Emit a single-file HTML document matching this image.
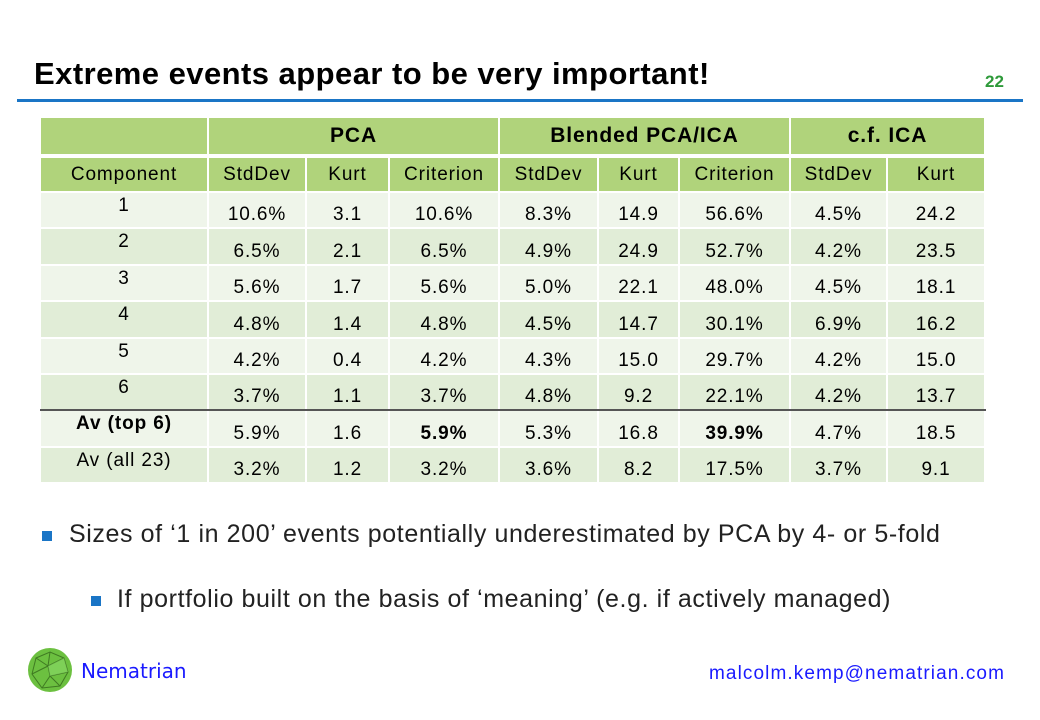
<!DOCTYPE html>
<html><head><style>
body{margin:0;width:1040px;height:720px;background:#fff;position:relative;overflow:hidden;font-family:"Liberation Sans",Arial,sans-serif;}
.t{position:absolute;left:34px;top:56px;font-size:31px;font-weight:bold;color:#000;letter-spacing:0.45px}
.n{position:absolute;left:985px;top:72px;font-size:17px;font-weight:bold;color:#2e9a3a}
.hl{position:absolute;left:17px;top:99px;width:1006px;height:3px;background:#1a75c6}
table{position:absolute;left:39px;top:116px;border-collapse:collapse;table-layout:fixed;font-size:19px;letter-spacing:0.9px;color:#000}
td{border:2px solid #fff;text-align:center;padding:0;white-space:nowrap}
.h1 td{background:#b0d37b;height:36px;font-weight:bold;font-size:21px;border-bottom-width:4px}
.h2 td{background:#b0d37b;height:33px}
.a td{background:#eff5ea}
.b td{background:#e1edd7}
tr.d td{height:31.4px;vertical-align:bottom;padding-bottom:2px;line-height:20px}
tr.d td:first-child{vertical-align:top;padding-top:3px;padding-bottom:0}
.line{position:absolute;left:40px;top:409px;width:946px;height:2px;background:#555}
.bull{position:absolute;width:10px;height:10px;background:#1a75c6}
.tx{position:absolute;font-size:25px;letter-spacing:0.6px;color:#222}
</style></head><body>
<div class="t">Extreme events appear to be very important!</div>
<div class="n">22</div>
<div class="hl"></div>
<table>
<colgroup><col style="width:168px"><col style="width:98px"><col style="width:83px"><col style="width:110px"><col style="width:99px"><col style="width:81px"><col style="width:111px"><col style="width:97px"><col style="width:98px"></colgroup>
<tr class="h1"><td></td><td colspan="3">PCA</td><td colspan="3">Blended PCA/ICA</td><td colspan="2">c.f. ICA</td></tr>
<tr class="h2"><td>Component</td><td>StdDev</td><td>Kurt</td><td>Criterion</td><td>StdDev</td><td>Kurt</td><td>Criterion</td><td>StdDev</td><td>Kurt</td></tr>
<tr class="d a"><td>1</td><td>10.6%</td><td>3.1</td><td>10.6%</td><td>8.3%</td><td>14.9</td><td>56.6%</td><td>4.5%</td><td>24.2</td></tr>
<tr class="d b"><td>2</td><td>6.5%</td><td>2.1</td><td>6.5%</td><td>4.9%</td><td>24.9</td><td>52.7%</td><td>4.2%</td><td>23.5</td></tr>
<tr class="d a"><td>3</td><td>5.6%</td><td>1.7</td><td>5.6%</td><td>5.0%</td><td>22.1</td><td>48.0%</td><td>4.5%</td><td>18.1</td></tr>
<tr class="d b"><td>4</td><td>4.8%</td><td>1.4</td><td>4.8%</td><td>4.5%</td><td>14.7</td><td>30.1%</td><td>6.9%</td><td>16.2</td></tr>
<tr class="d a"><td>5</td><td>4.2%</td><td>0.4</td><td>4.2%</td><td>4.3%</td><td>15.0</td><td>29.7%</td><td>4.2%</td><td>15.0</td></tr>
<tr class="d b"><td>6</td><td>3.7%</td><td>1.1</td><td>3.7%</td><td>4.8%</td><td>9.2</td><td>22.1%</td><td>4.2%</td><td>13.7</td></tr>
<tr class="d a"><td><b>Av (top 6)</b></td><td>5.9%</td><td>1.6</td><td><b>5.9%</b></td><td>5.3%</td><td>16.8</td><td><b>39.9%</b></td><td>4.7%</td><td>18.5</td></tr>
<tr class="d b"><td>Av (all 23)</td><td>3.2%</td><td>1.2</td><td>3.2%</td><td>3.6%</td><td>8.2</td><td>17.5%</td><td>3.7%</td><td>9.1</td></tr>
</table>
<div class="line"></div>
<div class="bull" style="left:42px;top:531px"></div>
<div class="tx" style="left:69px;top:520px">Sizes of ‘1 in 200’ events potentially underestimated by PCA by 4- or 5-fold</div>
<div class="bull" style="left:91px;top:596px"></div>
<div class="tx" style="left:117px;top:585px">If portfolio built on the basis of ‘meaning’ (e.g. if actively managed)</div>
<svg style="position:absolute;left:26px;top:646px" width="48" height="48" viewBox="0 0 48 48">
<circle cx="24" cy="24" r="22" fill="#6cc040"/>
<path d="M10 12 L24 6 L38 12 L42 26 L34 40 L16 42 L6 28 Z M24 6 L22 20 L38 12 M22 20 L10 12 M22 20 L6 28 M22 20 L24 30 L42 26 M24 30 L16 42 M24 30 L34 40" fill="none" stroke="#3f7a22" stroke-width="1"/>
<path d="M22 20 L38 12 L42 26 L24 30 Z" fill="#8fe070" opacity="0.5"/>
</svg>
<div style="position:absolute;left:81px;top:659px;font-size:20px;color:#1a1aff;font-family:'DejaVu Sans',sans-serif">Nematrian</div>
<div style="position:absolute;left:709px;top:663px;font-size:19px;letter-spacing:1.1px;color:#1a1aff">malcolm.kemp@nematrian.com</div>
</body></html>
